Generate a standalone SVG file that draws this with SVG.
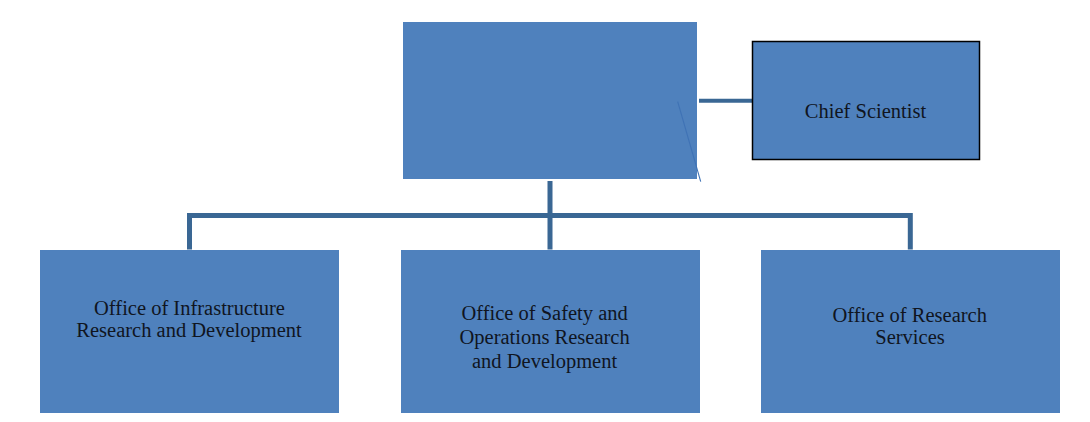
<svg xmlns="http://www.w3.org/2000/svg" width="1090" height="422" viewBox="0 0 1090 422">
<style>
.box{fill:#4f81bd;}
.cs{fill:#4f81bd;stroke:#000;stroke-width:1.5;}
.conn{fill:none;stroke:#3a6794;stroke-width:5;}
.t{font-family:"Liberation Serif","Times New Roman",serif;font-size:20.5px;fill:#10151f;text-anchor:middle;}
</style>
<rect width="1090" height="422" fill="#fff"/>
<g id="connectors">
<path class="conn" d="M550,181 V215.5 M189.5,249.5 V215.5 H910.3 V249.5 M550,215.5 V249.5"/>
<line x1="699" y1="100.8" x2="752" y2="100.8" stroke="#3a6794" stroke-width="4"/>
</g>
<g id="director">
<rect class="box" x="403" y="22" width="294" height="157"/>
<line x1="677.7" y1="101.7" x2="700.7" y2="181.7" stroke="#3f72b5" stroke-width="1.1"/>
</g>
<g id="chief-scientist">
<rect class="cs" x="752.5" y="41.5" width="227" height="118"/>
<text class="t" x="865.5" y="118">Chief Scientist</text>
</g>
<g id="infrastructure">
<rect class="box" x="40" y="250" width="299" height="163"/>
<text class="t" x="189.5" y="315">Office of Infrastructure</text>
<text class="t" x="189" y="337">Research and Development</text>
</g>
<g id="safety-operations">
<rect class="box" x="401" y="250" width="299" height="163"/>
<text class="t" x="544.6" y="319.5">Office of Safety and</text>
<text class="t" x="544.6" y="343.5">Operations Research</text>
<text class="t" x="544.6" y="367.5">and Development</text>
</g>
<g id="research-services">
<rect class="box" x="761" y="250" width="299" height="163"/>
<text class="t" x="909.7" y="321.7">Office of Research</text>
<text class="t" x="910" y="343.5">Services</text>
</g>
</svg>
